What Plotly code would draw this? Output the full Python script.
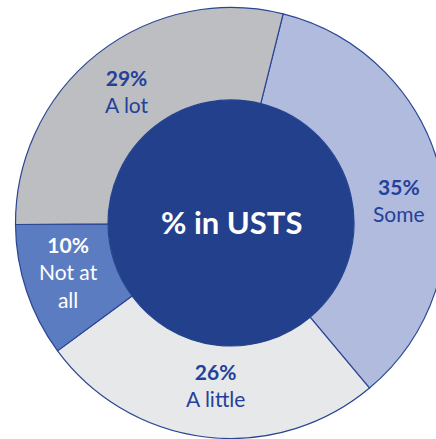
import math
import plotly.graph_objects as go

# Survey shares (clockwise from the "Some" slice)
categories = ["Some", "A little", "Not at all", "A lot"]
shares = [35, 26, 10, 29]
slice_colors = ["#b0bbde", "#e7e8ea", "#5b7cc0", "#bcbec1"]
label_colors = ["#24419a", "#24419a", "#ffffff", "#24419a"]
label_texts = ["Some", "A little", "Not at<br>all", "A lot"]
# small pixel nudges (dx, dy) for each slice label
label_nudges = [(3, 15), (5, -6), (-2, -4), (1, 1)]
center_title = "% in USTS"

W, H = 450, 439
CX, CY = 231, 223          # ring centre in pixels
R_OUT, R_IN = 215.5, 123   # outer and inner radii in pixels
START = 14                 # first slice starts 14 degrees clockwise of 12 o'clock
FONT = "Lato"
NAVY = "#22408b"


def dom_x(a, b):
    return [a / W, b / W]


def dom_y(top, bottom):
    return [1 - bottom / H, 1 - top / H]


fig = go.Figure()

# Outer ring
fig.add_trace(go.Pie(
    labels=categories,
    values=shares,
    sort=False,
    direction="clockwise",
    rotation=START,
    hole=R_IN / R_OUT,
    marker=dict(colors=slice_colors, line=dict(color="#2a4594", width=1.2)),
    textinfo="none",
    hoverinfo="label+percent",
    showlegend=False,
    domain=dict(x=dom_x(CX - R_OUT, CX + R_OUT), y=dom_y(CY - R_OUT, CY + R_OUT)),
))

# Solid centre disc
fig.add_trace(go.Pie(
    labels=[center_title],
    values=[1],
    sort=False,
    marker=dict(colors=[NAVY], line=dict(color=NAVY, width=0)),
    textinfo="none",
    hoverinfo="skip",
    showlegend=False,
    domain=dict(x=dom_x(CX - R_IN, CX + R_IN), y=dom_y(CY - R_IN, CY + R_IN)),
))

# Slice labels at the middle of the ring, at each slice's mid-angle
total = sum(shares)
acc = 0.0
r_mid = (R_OUT + R_IN) / 2
annotations = []
for val, col, txt, (nx, ny) in zip(shares, label_colors, label_texts, label_nudges):
    mid = START + (acc + val / 2) / total * 360
    acc += val
    px = CX + r_mid * math.sin(math.radians(mid)) + nx
    py = CY - r_mid * math.cos(math.radians(mid)) + ny
    pct = round(val / total * 100)
    annotations.append(dict(
        x=px / W, y=1 - py / H, xref="paper", yref="paper",
        text=f"<b>{pct}%</b><br>{txt}",
        showarrow=False, xanchor="center", yanchor="middle",
        font=dict(family=FONT, size=21, color=col),
    ))

annotations.append(dict(
    x=CX / W, y=1 - (CY - 1) / H, xref="paper", yref="paper",
    text=f"<b>{center_title}</b>", showarrow=False,
    xanchor="center", yanchor="middle",
    font=dict(family=FONT, size=31, color="#ffffff"),
))

fig.update_layout(
    width=W, height=H,
    margin=dict(l=0, r=0, t=0, b=0),
    paper_bgcolor="#ffffff",
    plot_bgcolor="#ffffff",
    annotations=annotations,
)

fig.write_html(
    "out.html",
    config={"displayModeBar": False},
    post_script="document.body.style.margin='0';document.body.style.overflow='hidden';document.documentElement.style.overflow='hidden';",
)
